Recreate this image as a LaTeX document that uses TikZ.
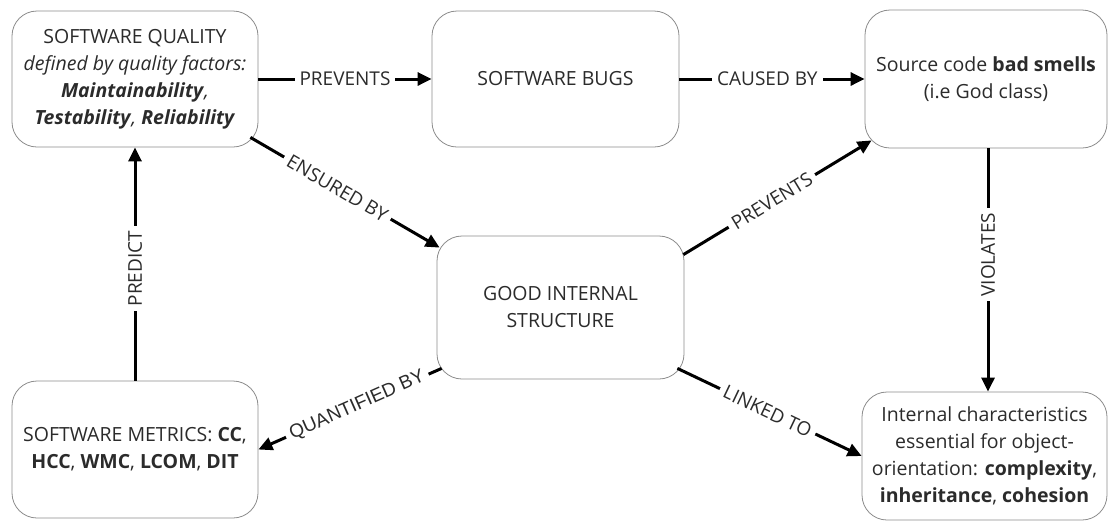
\documentclass[tikz,border=0pt]{standalone}
\usepackage{fontspec}
\setmainfont{Open Sans}
\newfontfamily\arialfont{Liberation Sans}
\usetikzlibrary{arrows.meta}
\definecolor{boxline}{HTML}{8C8C8C}
\definecolor{ink}{HTML}{2B2B2B}
\begin{document}
\begin{tikzpicture}[x=1pt,y=-1pt,
  concept/.style={draw=boxline, line width=0.8pt, rounded corners=25pt,
    fill=white, text=ink, align=center, inner sep=0pt,
    font=\fontsize{19.5}{27}\selectfont},
  link/.style={line width=3pt, draw=black,
    -{Triangle[length=14pt,width=13pt]}},
  tag/.style={fill=white, inner xsep=5pt, inner ysep=1pt, text=ink,
    font=\fontsize{19}{22}\selectfont}
]
\useasboundingbox (0,0) rectangle (1108,523);

% concepts
\node[concept, minimum width=246pt, minimum height=136pt] (Q) at (135,79)
  {SOFTWARE QUALITY\\
   \textit{defined by quality factors:}\\
   \textbf{\textit{Maintainability}}\textit{,}\\
   \textbf{\textit{Testability}}\textit{,} \textbf{\textit{Reliability}}};
\node[concept, minimum width=247pt, minimum height=136pt] (B) at (555.5,79)
  {SOFTWARE BUGS};
\node[concept, minimum width=242pt, minimum height=138pt] (S) at (986,79)
  {Source code \textbf{bad smells}\\ (i.e God class)};
\node[concept, minimum width=247pt, minimum height=143pt] (G) at (560.5,307.5)
  {GOOD INTERNAL\\ STRUCTURE};
\node[concept, minimum width=246pt, minimum height=137pt] (M) at (135,449.5)
  {SOFTWARE METRICS: \textbf{CC},\\
   \textbf{HCC}, \textbf{WMC}, \textbf{LCOM}, \textbf{DIT}};
\node[concept, minimum width=245pt, minimum height=128pt] (I) at (984.5,456)
  {Internal characteristics\\ essential for object-\\
   orientation: \textbf{complexity},\\
   \textbf{inheritance}, \textbf{cohesion}};

% relations
\draw[link] (Q.east) -- node[tag, pos=0.5] {PREVENTS} (B.west);
\draw[link] (B.east) -- node[tag, pos=0.475] {CAUSED BY} (S.west);
\draw[link] (M.north) -- node[tag, pos=0.48, rotate=90] {PREDICT} (Q.south);
\draw[link] (S.south -| 988,0) -- node[tag, pos=0.437, rotate=90] {VIOLATES}
  (I.north -| 988,0);
\draw[link] ([shift={(-8,-10)}]Q.south east) --
  node[tag, sloped, pos=0.46] {ENSURED BY} ([shift={(3,12)}]G.north west);
\draw[link] ([shift={(-1,19)}]G.north east) --
  node[tag, sloped, pos=0.47] {PREVENTS} ([shift={(7,-8)}]S.south west);
\draw[link] ([shift={(5,-11)}]G.south west) --
  node[tag, sloped, pos=0.46, font=\arialfont\fontsize{19}{22}\selectfont]
  {QUANTIFIED BY} (M.east);
\draw[link] ([shift={(-7,-11)}]G.south east) --
  node[tag, sloped, pos=0.49] {LINKED TO} (I.west);
\end{tikzpicture}
\end{document}
